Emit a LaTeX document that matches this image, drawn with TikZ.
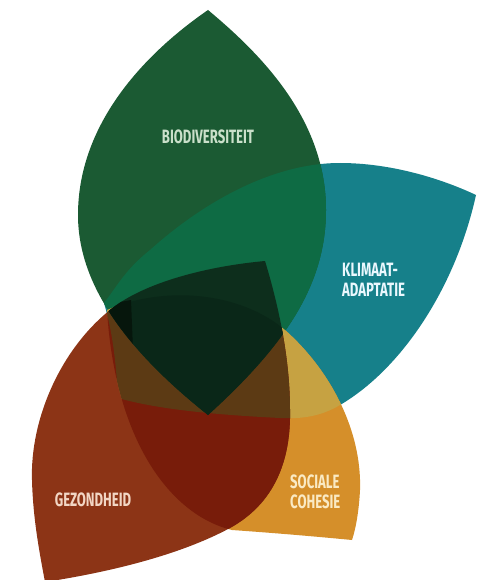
\documentclass[tikz,border=0pt]{standalone}
\usepackage{fontspec}
\newfontfamily\lblfont[FakeStretch=0.68]{Fira Sans}
\definecolor{cG}{HTML}{1B5A33}
\definecolor{cT}{HTML}{16808A}
\definecolor{cO}{HTML}{D58F2A}
\definecolor{cR}{HTML}{8C3416}
\definecolor{cGT}{HTML}{0E6B44}
\definecolor{cTO}{HTML}{C6A242}
\definecolor{cRO}{HTML}{781C0A}
\definecolor{cRTO}{HTML}{5C3A14}
\definecolor{cGR}{HTML}{0D2E1C}
\definecolor{cGRO}{HTML}{0A2718}
\definecolor{cBlk}{HTML}{06160C}
\def\pG{(208,10) .. controls (262,55) and (326,120) .. (326,210) .. controls (326,285) and (285,345) .. (208,415) .. controls (120,345) and (78,280) .. (78,215) .. controls (78,120) and (150,50) .. (208,10) -- cycle}
\def\pR{(265,261) .. controls (200,267) and (140,285) .. (110,310) .. controls (60,350) and (30,420) .. (32,480) .. controls (33,520) and (40,555) .. (45,582) .. controls (110,572) and (180,555) .. (230,528) .. controls (275,503) and (291,460) .. (290,410) .. controls (290,370) and (283,320) .. (265,261) -- cycle}
\def\pO{(107,310) .. controls (165,285) and (240,292) .. (285,330) .. controls (330,370) and (362,430) .. (360,490) .. controls (359,510) and (356,528) .. (352,540) .. controls (300,535) and (260,532) .. (232,530) .. controls (170,515) and (115,440) .. (107,310) -- cycle}
\def\pT{(104,303) .. controls (118,285) and (125,270) .. (150,250) .. controls (200,205) and (270,163) .. (340,163) .. controls (390,163) and (440,178) .. (476,195) .. controls (455,290) and (400,370) .. (340,405) .. controls (320,417) and (300,419) .. (280,418) .. controls (220,415) and (160,410) .. (118,398) .. controls (116,360) and (112,330) .. (104,303) -- cycle}
\begin{document}
\begin{tikzpicture}[x=1pt,y=-1pt,
  lbl/.style={inner sep=0pt,font=\lblfont\bfseries\fontsize{19.3}{20}\selectfont},
  lblG/.style={lbl,text=green!10!white!88!black},
  lblT/.style={lbl,text=white!92!cyan,align=left,anchor=west},
  lblR/.style={lbl,text={rgb,255:red,242;green,214;blue,196}},
  lblO/.style={lbl,text={rgb,255:red,250;green,234;blue,196},align=left,anchor=west}]
\useasboundingbox (0,0) rectangle (476,580);
% base leaves
\fill[cT] \pT;
\fill[cO] \pO;
\fill[cR] \pR;
\fill[cG] \pG;
% pairwise overlaps
\begin{scope}\clip \pG; \fill[cGT] \pT; \end{scope}
\begin{scope}\clip \pT; \fill[cTO] \pO; \end{scope}
\begin{scope}\clip \pR; \fill[cRO] \pO; \end{scope}
\begin{scope}\clip \pR; \clip \pO; \fill[cRTO] \pT; \end{scope}
\begin{scope}\clip \pG; \fill[cGR] \pR; \end{scope}
\begin{scope}\clip \pG; \clip \pR; \fill[cGRO] \pO; \end{scope}
% darkest wedge
\begin{scope}\clip \pG; \clip \pR;
  \fill[cBlk] (104,305) -- (131,300) -- (133,350) -- (110,340) -- cycle;
\end{scope}
% labels
\node[lblG] (bio) at (208,137) {BIODIVERSITEIT};
\node[lblT] (kli) at (342,280) {KLIMAAT-\\ADAPTATIE};
\node[lblR] (gez) at (93,500) {GEZONDHEID};
\node[lblO] (soc) at (290,491.5) {SOCIALE\\COHESIE};
\end{tikzpicture}
\end{document}
